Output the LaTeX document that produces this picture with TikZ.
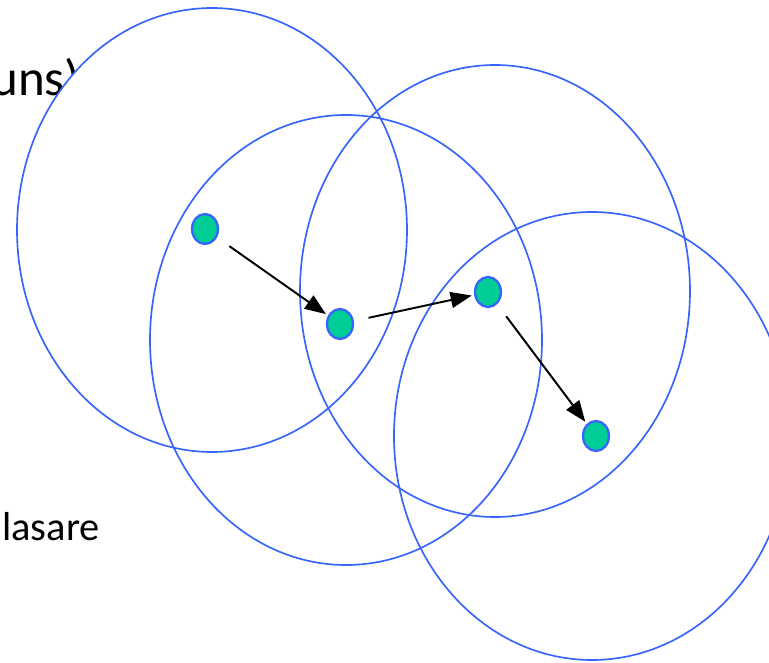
\documentclass[tikz,border=0pt]{standalone}
\usepackage{fontspec}
\setmainfont{Carlito}
\usepackage{xcolor}
\usetikzlibrary{shapes.geometric, arrows.meta}

\definecolor{zoneblue}{RGB}{55,100,250}
\definecolor{hostgreen}{RGB}{0,204,150}

\tikzset{
  zone/.style={draw=zoneblue, line width=0.95pt},
  host/.style={draw=zoneblue, fill=hostgreen, line width=1.3pt, ellipse,
    minimum width=0.52cm, minimum height=0.6cm, inner sep=0pt},
  hop/.style={-{Triangle[length=0.42cm, width=0.32cm]}, line width=1.1pt, shorten <=0.3cm, shorten >=0.05cm}
}

\begin{document}
\begin{tikzpicture}[x=0.02cm, y=-0.02cm]
\clip (0,0) rectangle (769,663);
% text left over from the slide
\node[anchor=base west, font=\fontsize{29}{34}\selectfont, inner sep=0pt] (title) at (-9,95) {uns)};
\node[anchor=base west, font=\fontsize{23}{28}\selectfont, inner sep=0pt] (word) at (2,540) {lasare};
% radio ranges
\draw[zone, fill=white] (212,230) ellipse [x radius=195, y radius=222];
\draw[zone] (346,340) ellipse [x radius=196, y radius=225];
\draw[zone] (495,291) ellipse [x radius=195, y radius=226];
\draw[zone] (592,436) ellipse [x radius=198, y radius=224];
% nodes
\node[host] (a) at (205,229) {};
\node[host] (b) at (340,324) {};
\node[host] (c) at (488,292) {};
\node[host] (d) at (596,436) {};
% route
\draw[hop] (a) -- (b);
\draw[hop] (b) -- (c);
\draw[hop] (c) -- (d);
\end{tikzpicture}
\end{document}
